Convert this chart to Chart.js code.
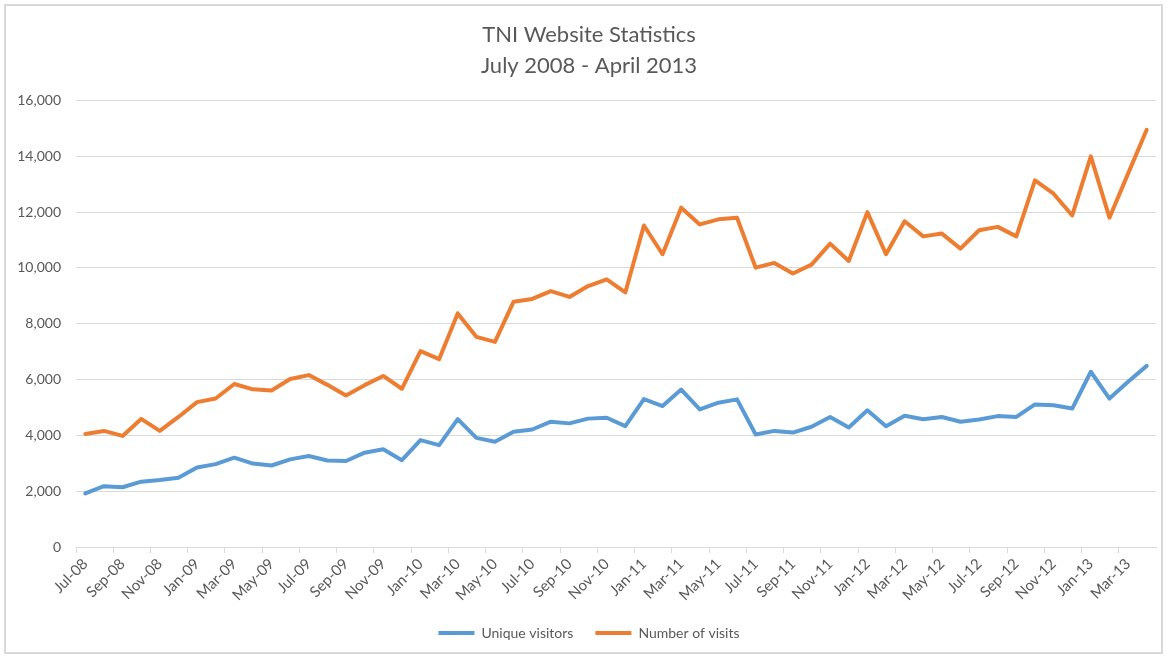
<!DOCTYPE html>
<html>
<head>
<meta charset="utf-8">
<script src="https://cdn.jsdelivr.net/npm/chart.js@4.4.1/dist/chart.umd.min.js"></script>
<style>
  html, body { margin: 0; padding: 0; background: #ffffff; }
  #wrap { position: absolute; left: 0; top: 0; width: 1167px; height: 656px; }
</style>
</head>
<body>
<div id="wrap"><canvas id="c" width="1167" height="656"></canvas></div>
<script>
const titleLines = ['TNI Website Statistics', 'July 2008 - April 2013'];

const months = [
  'Jul-08','Aug-08','Sep-08','Oct-08','Nov-08','Dec-08',
  'Jan-09','Feb-09','Mar-09','Apr-09','May-09','Jun-09','Jul-09','Aug-09','Sep-09','Oct-09','Nov-09','Dec-09',
  'Jan-10','Feb-10','Mar-10','Apr-10','May-10','Jun-10','Jul-10','Aug-10','Sep-10','Oct-10','Nov-10','Dec-10',
  'Jan-11','Feb-11','Mar-11','Apr-11','May-11','Jun-11','Jul-11','Aug-11','Sep-11','Oct-11','Nov-11','Dec-11',
  'Jan-12','Feb-12','Mar-12','Apr-12','May-12','Jun-12','Jul-12','Aug-12','Sep-12','Oct-12','Nov-12','Dec-12',
  'Jan-13','Feb-13','Mar-13','Apr-13'
];

const uniqueVisitors = [
  1920, 2180, 2140, 2340, 2400, 2480,
  2850, 2970, 3200, 2990, 2920, 3140, 3260, 3100, 3080, 3380, 3500, 3110,
  3830, 3650, 4580, 3910, 3770, 4130, 4210, 4490, 4430, 4600, 4630, 4330,
  5300, 5050, 5640, 4930, 5170, 5290, 4030, 4160, 4100, 4310, 4660, 4280,
  4900, 4330, 4700, 4580, 4660, 4490, 4570, 4690, 4660, 5110, 5080, 4960,
  6280, 5320, 5920, 6490
];

const numberOfVisits = [
  4050, 4160, 3980, 4590, 4160, 4660,
  5190, 5320, 5840, 5650, 5610, 6020, 6160, 5810, 5430, 5800, 6130, 5670,
  7020, 6730, 8370, 7530, 7350, 8790, 8890, 9170, 8960, 9350, 9590, 9120,
  11520, 10490, 12160, 11560, 11740, 11800, 10010, 10180, 9800, 10120, 10870, 10250,
  12000, 10490, 11670, 11130, 11230, 10690, 11350, 11470, 11130, 13140, 12660, 11880,
  14000, 11800, 13380, 14950
];

const seriesNames = ['Unique visitors', 'Number of visits'];
const seriesColors = ['#5B9BD5', '#ED7D31'];
const yTickMin = 0, yTickMax = 16000, yTickStep = 2000;

const textColor = '#595959';
const gridColor = '#d9d9d9';
const fontFamily = 'Lato, "Open Sans", sans-serif';

const borderPlugin = {
  id: 'outerBorder',
  beforeDraw(chart) {
    const ctx = chart.ctx;
    ctx.save();
    ctx.fillStyle = '#ffffff';
    ctx.fillRect(0, 0, chart.width, chart.height);
    ctx.strokeStyle = '#d9d9d9';
    ctx.lineWidth = 2;
    ctx.strokeRect(5, 5, chart.width - 10, chart.height - 8);
    ctx.restore();
  }
};

new Chart(document.getElementById('c'), {
  type: 'line',
  data: {
    labels: months,
    datasets: [
      {
        label: seriesNames[0],
        data: uniqueVisitors,
        borderColor: seriesColors[0],
        backgroundColor: seriesColors[0],
        borderWidth: 4,
        pointRadius: 0,
        tension: 0,
        borderJoinStyle: 'round',
        borderCapStyle: 'round'
      },
      {
        label: seriesNames[1],
        data: numberOfVisits,
        borderColor: seriesColors[1],
        backgroundColor: seriesColors[1],
        borderWidth: 4,
        pointRadius: 0,
        tension: 0,
        borderJoinStyle: 'round',
        borderCapStyle: 'round'
      }
    ]
  },
  options: {
    responsive: false,
    animation: false,
    devicePixelRatio: 1,
    layout: { padding: { top: 10, right: 3, bottom: 6, left: 14 } },
    plugins: {
      title: {
        display: true,
        text: titleLines,
        color: textColor,
        font: { family: fontFamily, size: 22, weight: 'normal', lineHeight: 1.42 },
        padding: { top: 9, bottom: 19 }
      },
      legend: {
        display: true,
        position: 'bottom',
        labels: {
          color: textColor,
          font: { family: fontFamily, size: 14 },
          usePointStyle: true,
          pointStyle: 'line',
          pointStyleWidth: 36,
          boxHeight: 4,
          padding: 22
        }
      },
      tooltip: { enabled: false }
    },
    scales: {
      x: {
        offset: true,
        grid: {
          offset: true,
          drawOnChartArea: false,
          drawTicks: true,
          tickLength: 6,
          color: (ctx) => (ctx.index % 2 === 0 ? gridColor : 'rgba(0,0,0,0)'),
          lineWidth: 1
        },
        border: { display: true, color: gridColor, width: 1 },
        ticks: {
          autoSkip: false,
          maxRotation: 45,
          minRotation: 45,
          color: textColor,
          font: { family: fontFamily, size: 15 },
          padding: 2,
          callback: function (value, index) {
            return index % 2 === 0 ? this.getLabelForValue(value) : '';
          }
        },
        afterFit(scale) { scale.height = 57; scale.paddingRight = 11; }
      },
      y: {
        min: yTickMin,
        max: yTickMax,
        grid: { color: gridColor, lineWidth: 1, drawTicks: false },
        border: { display: false },
        ticks: {
          stepSize: yTickStep,
          color: textColor,
          font: { family: fontFamily, size: 14 },
          padding: 15,
          callback: (v) => v.toLocaleString('en-US')
        },
        afterFit(scale) { scale.width = 62; }
      }
    }
  },
  plugins: [borderPlugin]
});
</script>
</body>
</html>
